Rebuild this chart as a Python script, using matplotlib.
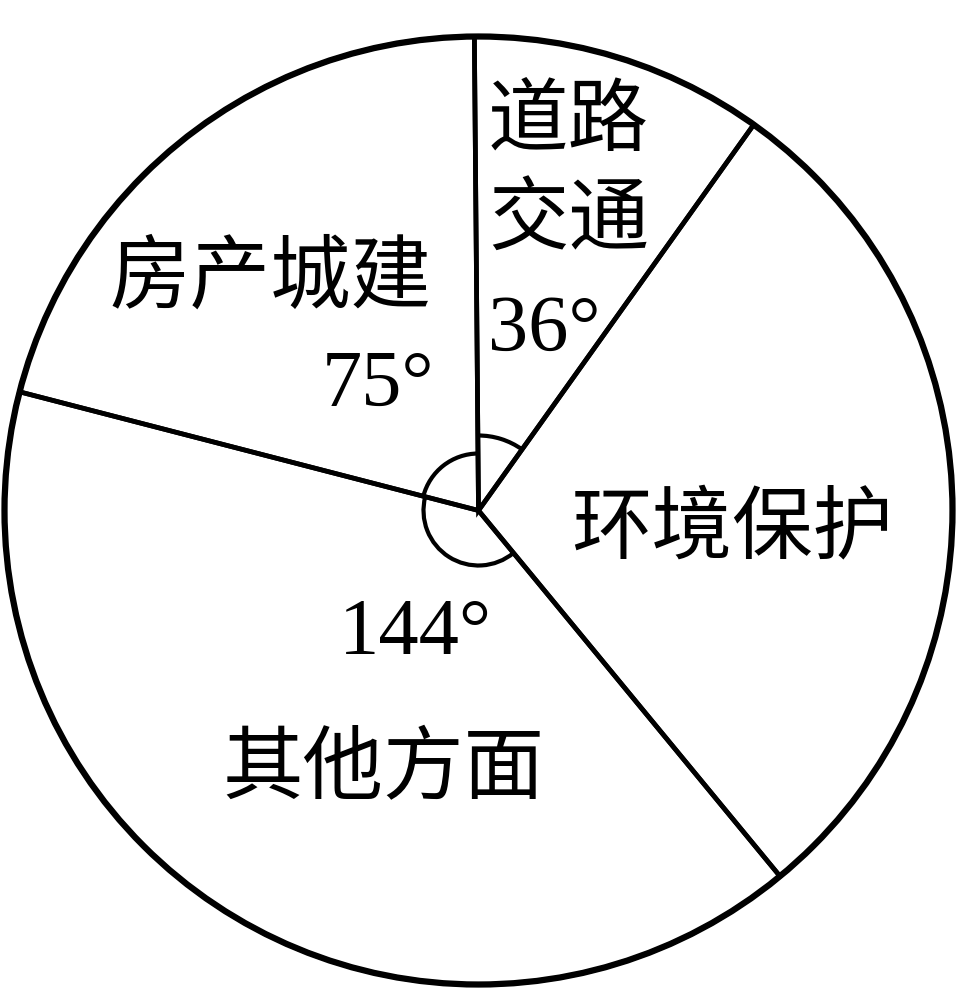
import matplotlib
matplotlib.use("Agg")
import matplotlib.pyplot as plt
from matplotlib.patches import Arc, Circle

# slices in counter-clockwise order (degrees of the circle)
labels = ["环境保护", "道路交通", "房产城建", "其他方面"]
degrees = [105, 36, 75, 144]

W, H = 957, 991
cx, cy, R = 478.5, 480.5, 474
start = -50.5

fig = plt.figure(figsize=(W / 100, H / 100), dpi=100, facecolor="white")
ax = fig.add_axes([0, 0, 1, 1])

wedges, _ = ax.pie(degrees, startangle=start, counterclock=True, center=(cx, cy),
                   radius=R, frame=True,
                   wedgeprops=dict(fill=False, edgecolor="black", linewidth=3.4))
ax.set_xlim(0, W)
ax.set_ylim(0, H)
ax.set_aspect("equal")
ax.axis("off")
ax.add_patch(Circle((cx, cy), R, fill=False, edgecolor="black", linewidth=4.5))

# small angle marks at the centre
arc_r = [None, 75, 57, 55]
for w, r in zip(wedges, arc_r):
    if r is None:
        continue
    ax.add_patch(Arc((cx, cy), 2 * r, 2 * r, theta1=w.theta1, theta2=w.theta2,
                     color="black", linewidth=3.0))

fam = ["Liberation Serif", "Noto Sans CJK SC"]
fs = 58

def put(s, x, y, ha="center"):
    ax.text(x, H - y, s, fontsize=fs, family=fam, ha=ha, va="center", color="black")

# 环境保护
put(labels[0], 732, 532)
# 道路交通
put(labels[1][:2], 488, 125, ha="left")
put(labels[1][2:], 488, 224, ha="left")
put(f"{degrees[1]}°", 488, 331, ha="left")
# 房产城建
put(labels[2], 270, 281)
put(f"{degrees[2]}°", 378, 386)
# 其他方面
put(f"{degrees[3]}°", 415, 635)
put(labels[3], 383, 773)

fig.savefig("out.png", dpi=100, facecolor="white")
